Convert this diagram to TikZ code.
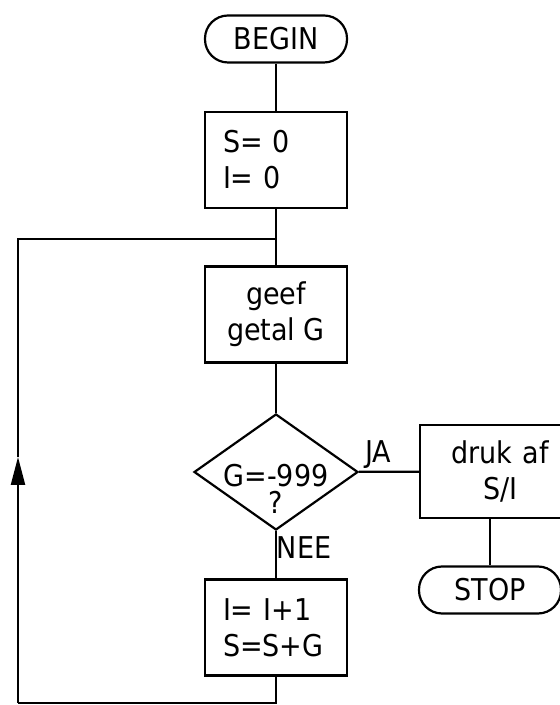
\documentclass[tikz,border=0pt]{standalone}
\usepackage{fontspec}
\setmainfont{DejaVu Sans Condensed}
\usepackage{tikz}
\usetikzlibrary{shapes.geometric, arrows.meta}
\tikzstyle{stap}=[draw, shape=rectangle, line width=1.1pt, minimum width=71pt, minimum height=48pt, align=center, font=\fontsize{15}{18}\selectfont]
\tikzstyle{stapL}=[stap, text width=53pt, inner xsep=9pt, align=left]
\tikzstyle{eind}=[draw, shape=rectangle, rounded corners=11.5pt, line width=1.1pt, minimum width=71pt, minimum height=23.5pt, font=\fontsize{15}{18}\selectfont]
\tikzstyle{keuze}=[draw, shape=diamond, aspect=1.4, inner sep=0pt, minimum width=82pt, minimum height=58pt, line width=1.1pt]
\tikzstyle{tekst}=[inner sep=0pt, font=\fontsize{15}{18}\selectfont]
\tikzstyle{lijn}=[line width=1.1pt]
\tikzset{>={Triangle[length=14pt, width=7pt]}}

\begin{document}
\begin{tikzpicture}[x=0.5pt, y=0.5pt]
\useasboundingbox (0,0) rectangle (559,705);

\node[eind] (begin) at (276,666) {BEGIN};
\node[stapL] (init) at (276,545) {S= 0\\I= 0};
\node[stap] (invoer) at (276,390.5) {geef\\getal G};
\node[keuze, label={[tekst, align=center, font=\fontsize{15}{13.5}\selectfont, yshift=-8.5pt]center:{G=-999\\?}}] (test) at (276,233) {};
\node[stap, anchor=west, minimum width=80pt, minimum height=46.5pt, text width=58pt, inner xsep=7pt] (druk) at (419,233.5) {druk af\\S/I};
\node[eind] (stop) at (490,115) {STOP};
\node[stapL] (tel) at (276,77.5) {I= I+1\\S=S+G};

\node[tekst] (ja) at (378,250) {JA};
\node[tekst] (nee) at (304,157) {NEE};

%lus terug naar invoer
\coordinate (lus) at (276,466);
\coordinate (hoekLB) at (18,466);
\coordinate (pijl) at (18,248);
\coordinate (hoekLO) at (18,2);
\coordinate (hoekRO) at (276,2);

\draw[lijn] (begin) -- (init);
\draw[lijn] (init) -- (invoer);
\draw[lijn] (invoer) -- (test);
\draw[lijn] (test) -- (druk);
\draw[lijn] (stop) -- (stop |- druk.south);
\draw[lijn] (test) -- (tel);
\draw[lijn] (tel) -- (hoekRO) -- (hoekLO);
\draw[lijn, ->] (hoekLO) -- (pijl);
\draw[lijn] (pijl) -- (hoekLB) -- (lus);
\end{tikzpicture}
\end{document}
